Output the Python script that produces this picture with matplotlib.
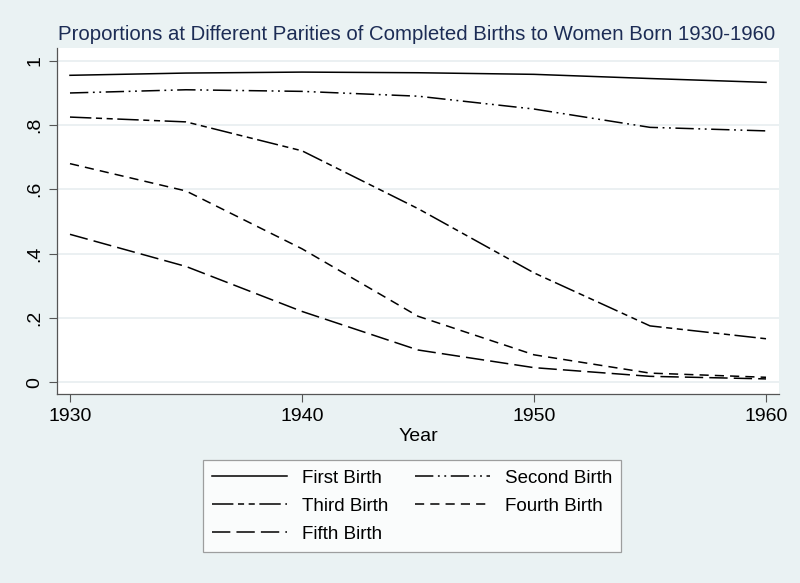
import matplotlib
matplotlib.use("Agg")
import matplotlib.pyplot as plt
from matplotlib.ticker import FixedLocator

plt.rcParams['font.family'] = ['Liberation Sans', 'DejaVu Sans']

years = [1930, 1935, 1940, 1945, 1950, 1955, 1960]
first_birth = [0.955, 0.962, 0.965, 0.963, 0.958, 0.945, 0.933]
second_birth = [0.900, 0.910, 0.905, 0.890, 0.850, 0.793, 0.782]
third_birth = [0.825, 0.810, 0.720, 0.540, 0.340, 0.175, 0.135]
fourth_birth = [0.680, 0.595, 0.415, 0.205, 0.085, 0.028, 0.015]
fifth_birth = [0.460, 0.360, 0.220, 0.100, 0.045, 0.018, 0.010]
series_labels = ["First Birth", "Second Birth", "Third Birth", "Fourth Birth", "Fifth Birth"]
y_ticks = [0, 0.2, 0.4, 0.6, 0.8, 1.0]
y_ticklabels = ["0", ".2", ".4", ".6", ".8", "1"]
x_ticks = [1930, 1940, 1950, 1960]

bg = "#eaf2f3"
fig = plt.figure(figsize=(8, 5.83), dpi=100, facecolor=bg)
ax = fig.add_axes([57/800, 1-394/583, (779-57)/800, (394-48)/583])
ax.set_facecolor("white")

styles = [
    "-",
    (0, (12, 3, 1.2, 3, 1.2, 3)),
    (0, (14, 3, 4, 3, 4, 3)),
    (0, (6, 4)),
    (0, (12, 4)),
]
data = [first_birth, second_birth, third_birth, fourth_birth, fifth_birth]
handles = []
for vals, ls, lab in zip(data, styles, series_labels):
    h, = ax.plot(years, vals, color="black", lw=1.1, linestyle=ls, label=lab)
    handles.append(h)

ax.set_xlim(1929.44, 1960.56)
ax.set_ylim(-0.037, 1.04)
ax.yaxis.set_major_locator(FixedLocator(y_ticks))
ax.set_yticklabels(y_ticklabels, rotation=90, va="center", fontsize=14)
ax.set_xticks(x_ticks)
ax.set_xticklabels([str(x) for x in x_ticks], fontsize=14)
ax.tick_params(direction="out", length=6, width=0.8, color="#555555", pad=4)
ax.grid(axis="y", color="#e8eef0", lw=1.2)
ax.set_axisbelow(True)
for s in ["top", "right"]:
    ax.spines[s].set_visible(False)
for s in ["left", "bottom"]:
    ax.spines[s].set_color("#555555")
    ax.spines[s].set_linewidth(0.9)

ax.set_xlabel("Year", fontsize=14, labelpad=2)
fig.text(417/800, 1-34/583, "Proportions at Different Parities of Completed Births to Women Born 1930-1960",
         ha="center", va="center", fontsize=14.7, color="#1c2c55")

order = [0, 2, 4, 1, 3]
leg = fig.legend([handles[i] for i in order], [series_labels[i] for i in order],
                 ncol=2, loc="center",
                 bbox_to_anchor=(412/800, 1-506/583), fontsize=13.5,
                 frameon=True, fancybox=False, edgecolor="#888888",
                 handlelength=4.0, columnspacing=1.4, handletextpad=0.8,
                 labelspacing=0.58, borderpad=0.5)
leg.get_frame().set_linewidth(0.9)
leg.get_frame().set_facecolor("white")

fig.savefig("out.png", dpi=100, facecolor=bg)
